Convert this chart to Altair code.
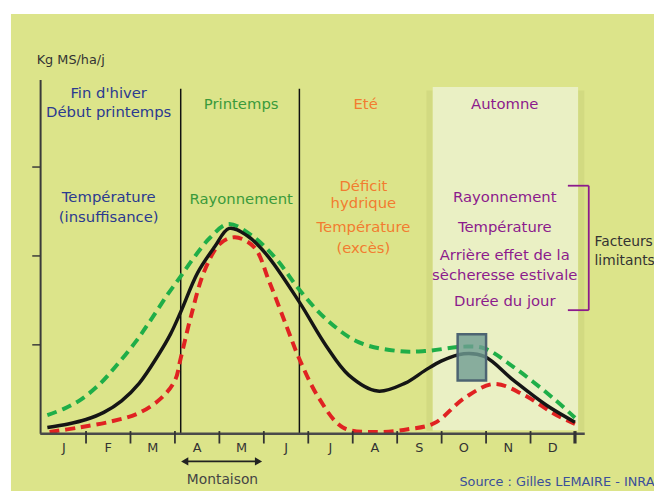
import altair as alt
import pandas as pd

# ---------------- data ----------------
month_labels = ["J", "F", "M", "A", "M", "J", "J", "A", "S", "O", "N", "D"]

black_x = [0.13, 0.6, 1.0, 1.4, 1.8, 2.2, 2.62, 2.9, 3.13, 3.51, 3.89, 4.22, 4.62, 5.07, 5.8,
           6.4, 6.91, 7.56, 8.18, 8.62, 9.0, 9.5, 9.96, 10.62, 11.36, 12.0]
black_y = [0.07, 0.11, 0.16, 0.24, 0.37, 0.57, 0.88, 1.12, 1.37, 1.81, 2.10, 2.31, 2.23, 2.01, 1.48,
           0.99, 0.66, 0.48, 0.57, 0.71, 0.82, 0.90, 0.87, 0.60, 0.32, 0.13]

green_x = [0.13, 0.5, 0.9, 1.33, 1.67, 2.11, 2.47, 2.84, 3.13, 3.44, 3.8, 4.2, 4.78, 5.29, 5.8,
           6.4, 7.13, 8.02, 8.62, 9.51, 9.96, 10.62, 11.51, 12.0]
green_y = [0.21, 0.28, 0.39, 0.57, 0.76, 1.03, 1.29, 1.57, 1.77, 1.99, 2.21, 2.36, 2.21, 1.96, 1.62,
           1.29, 1.03, 0.93, 0.93, 0.98, 0.96, 0.75, 0.40, 0.18]

red_x = [0.18, 0.84, 1.58, 2.18, 2.69, 3.0, 3.13, 3.36, 3.67, 4.02, 4.35, 4.78, 5.13,
         5.51, 5.8, 6.24, 6.78, 7.51, 8.24, 8.84, 9.51, 10.18, 10.84, 11.51, 12.0]
red_y = [0.02, 0.07, 0.14, 0.23, 0.40, 0.60, 0.85, 1.32, 1.84, 2.14, 2.21, 2.10, 1.70,
         1.21, 0.84, 0.40, 0.07, 0.02, 0.05, 0.12, 0.40, 0.56, 0.44, 0.23, 0.11]

season_bounds = [3.13, 5.8]          # vertical separators (months)
autumn_span = [8.8, 12.07]           # lighter autumn panel (months)
highlight_x = [9.36, 10.0]           # teal box
highlight_y = [0.60, 1.12]
y_ticks = [1, 2, 3]

header_texts = ["Fin d'hiver", "Début printemps", "Printemps", "Eté", "Automne"]
factor_texts = ["Température", "(insuffisance)", "Rayonnement",
                "Déficit", "hydrique", "Température", "(excès)",
                "Rayonnement", "Température", "Arrière effet de la",
                "sècheresse estivale", "Durée du jour"]

FONT = "DejaVu Sans"
BG = "#dce48a"
BLUE = "#2b3a90"
GREEN_T = "#3b9a3b"
ORANGE = "#f27c30"
PURPLE = "#8c1a8c"

xs = alt.Scale(domain=[0, 12], nice=False, zero=False)
ys = alt.Scale(domain=[0, 4], nice=False, zero=False)


def X(f="x"):
    return alt.X(f, type="quantitative", scale=xs, axis=None)


def Y(f="y"):
    return alt.Y(f, type="quantitative", scale=ys, axis=None)


one = pd.DataFrame({"a": [0]})

# background panel
bg = alt.Chart(one).mark_rect(color=BG).encode(
    x=alt.value(-31), x2=alt.value(620), y=alt.value(-65), y2=alt.value(418))

# autumn panel with soft shadows
shadow = alt.Chart(pd.DataFrame({"x": [autumn_span[0] - 0.14, autumn_span[1]],
                                 "x2": [autumn_span[0], autumn_span[1] + 0.14],
                                 "y": [0.03, 0.03], "y2": [3.86, 3.86]})).mark_rect(
    color="#8a9040", opacity=0.12).encode(x=X("x"), x2="x2", y=Y("y"), y2="y2")
autumn = alt.Chart(pd.DataFrame({"x": [autumn_span[0]], "x2": [autumn_span[1]],
                                 "y": [0.04], "y2": [3.9]})).mark_rect(
    color="#eaf0c4").encode(x=X("x"), x2="x2", y=Y("y"), y2="y2")

# season separators
seps = alt.Chart(pd.DataFrame({"x": season_bounds, "y": [0, 0], "y2": [3.88, 3.88]})).mark_rule(
    color="#111111", strokeWidth=1.5).encode(x=X("x"), y=Y("y"), y2="y2")

# axes drawn manually
yaxis = alt.Chart(pd.DataFrame({"x": [-0.022], "y": [0], "y2": [3.98]})).mark_rule(
    color="#3a3a3a", strokeWidth=2).encode(x=X("x"), y=Y("y"), y2="y2")
ytick = alt.Chart(pd.DataFrame({"y": y_ticks, "x": [-0.21] * 3, "x2": [-0.022] * 3})).mark_rule(
    color="#3a3a3a", strokeWidth=1.5).encode(x=X("x"), x2="x2", y=Y("y"))
xaxis = alt.Chart(pd.DataFrame({"x": [-0.03], "x2": [12.22], "y": [0]})).mark_rule(
    color="#4a4a4a", strokeWidth=2.5).encode(x=X("x"), x2="x2", y=Y("y"))
xt = pd.DataFrame({"x": list(range(1, 13)), "y": [0.03] * 12, "y2": [-0.11] * 12,
                   "w": [1.8] * 11 + [3.2]})
xtick = alt.Chart(xt).mark_rule(color="#333333").encode(
    x=X("x"), y=Y("y"), y2="y2", strokeWidth=alt.StrokeWidth("w:Q", scale=None))
mlab = alt.Chart(pd.DataFrame({"x": [i + 0.5 for i in range(12)], "y": [-0.165] * 12,
                               "t": month_labels})).mark_text(
    font=FONT, fontSize=13, color="#333333", baseline="middle").encode(x=X("x"), y=Y("y"), text="t:N")

# curves
def curve(xv, yv, color, width, dash=None):
    kw = dict(color=color, strokeWidth=width, interpolate="catmull-rom", strokeCap="butt")
    if dash:
        kw["strokeDash"] = dash
    return alt.Chart(pd.DataFrame({"x": xv, "y": yv})).mark_line(**kw).encode(x=X("x"), y=Y("y"))


green = curve(green_x, green_y, "#1fae48", 4, [10, 6])
red = curve(red_x, red_y, "#e02222", 4, [10, 6])
black = curve(black_x, black_y, "#151515", 3.5)

hl = alt.Chart(pd.DataFrame({"x": [highlight_x[0]], "x2": [highlight_x[1]],
                             "y": [highlight_y[0]], "y2": [highlight_y[1]]})).mark_rect(
    fill="#6f9c93", fillOpacity=0.8, stroke="#4d6472", strokeWidth=2.5).encode(
    x=X("x"), x2="x2", y=Y("y"), y2="y2")

# texts
S = 15
txt_rows = [
    ("Kg MS/ha/j", -0.11, 4.2, "#333333", 13, "left"),
    (header_texts[0], 1.51, 3.83, BLUE, S, "center"),
    (header_texts[1], 1.51, 3.62, BLUE, S, "center"),
    (header_texts[2], 4.49, 3.71, GREEN_T, S, "center"),
    (header_texts[3], 7.29, 3.71, ORANGE, S, "center"),
    (header_texts[4], 10.42, 3.71, PURPLE, S, "center"),
    (factor_texts[0], 1.51, 2.66, BLUE, S, "center"),
    (factor_texts[1], 1.51, 2.44, BLUE, S, "center"),
    (factor_texts[2], 4.49, 2.64, GREEN_T, S, "center"),
    (factor_texts[3], 7.24, 2.79, ORANGE, S, "center"),
    (factor_texts[4], 7.24, 2.59, ORANGE, S, "center"),
    (factor_texts[5], 7.24, 2.32, ORANGE, S, "center"),
    (factor_texts[6], 7.24, 2.09, ORANGE, S, "center"),
    (factor_texts[7], 10.42, 2.66, PURPLE, S, "center"),
    (factor_texts[8], 10.42, 2.32, PURPLE, S, "center"),
    (factor_texts[9], 10.42, 2.01, PURPLE, S, "center"),
    (factor_texts[10], 10.42, 1.79, PURPLE, S, "center"),
    (factor_texts[11], 10.42, 1.49, PURPLE, S, "center"),
    ("Facteurs", 12.44, 2.16, "#333333", 14, "left"),
    ("limitants", 12.44, 1.94, "#333333", 14, "left"),
    ("Montaison", 4.07, -0.52, "#444444", 14, "center"),
    ("Source : Gilles LEMAIRE - INRA", 9.4, -0.545, "#3a4f9a", 13, "left"),
]
tdf = pd.DataFrame(txt_rows, columns=["t", "x", "y", "c", "s", "al"])


def tlayer(df, align):
    return alt.Chart(df).mark_text(font=FONT, align=align, baseline="middle").encode(
        x=X("x"), y=Y("y"), text="t:N",
        color=alt.Color("c:N", scale=None),
        size=alt.Size("s:Q", scale=None))


texts_c = tlayer(tdf[tdf.al == "center"], "center")
texts_l = tlayer(tdf[tdf.al == "left"], "left")

# bracket for limiting factors
br_v = alt.Chart(pd.DataFrame({"x": [12.31], "y": [1.39], "y2": [2.79]})).mark_rule(
    color=PURPLE, strokeWidth=1.8).encode(x=X("x"), y=Y("y"), y2="y2")
br_h = alt.Chart(pd.DataFrame({"x": [11.84, 11.84], "x2": [12.31, 12.31], "y": [2.79, 1.39]})).mark_rule(
    color=PURPLE, strokeWidth=1.8).encode(x=X("x"), x2="x2", y=Y("y"))

# Montaison arrow
arr = alt.Chart(pd.DataFrame({"x": [3.2], "x2": [4.9], "y": [-0.311]})).mark_rule(
    color="#222222", strokeWidth=2).encode(x=X("x"), x2="x2", y=Y("y"))
heads = alt.Chart(pd.DataFrame({"x": [3.22, 4.88], "y": [-0.311, -0.311],
                                "sh": ["triangle-left", "triangle-right"]})).mark_point(
    filled=True, color="#222222", size=70, opacity=1).encode(
    x=X("x"), y=Y("y"), shape=alt.Shape("sh:N", scale=None))

chart = alt.layer(
    bg, shadow, autumn, seps, yaxis, ytick, green, red, black, hl, xaxis, xtick, mlab,
    texts_c, texts_l, br_v, br_h, arr, heads
).properties(
    width=540, height=360,
    padding={"left": 34, "top": 68, "right": 80, "bottom": 58},
    autosize=alt.AutoSizeParams(type="none"),
    background="white",
).configure_view(stroke=None)

chart.save("out.html", embed_options={"renderer": "svg", "actions": False})
